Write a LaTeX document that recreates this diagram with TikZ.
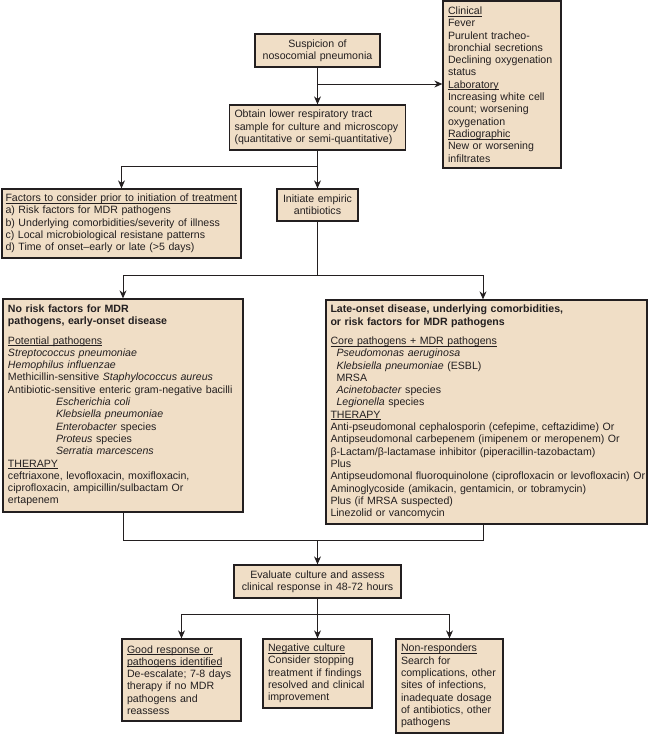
\documentclass[tikz,border=0pt]{standalone}
\usepackage{fontspec}
\setmainfont{Liberation Sans}
\usetikzlibrary{arrows.meta}
\definecolor{boxfill}{RGB}{240,222,198}
\definecolor{ink}{RGB}{35,31,32}
\newsavebox\ulnbox
\newcommand{\uln}[1]{\leavevmode\sbox\ulnbox{#1}\rlap{\rule[-1.7pt]{\wd\ulnbox}{0.55pt}}\usebox\ulnbox}
\begin{document}
\begin{tikzpicture}[x=1pt,y=-1pt,
  box/.style={draw=ink, line width=1.3pt, fill=boxfill, text=ink, inner ysep=3pt,
    font=\fontsize{10.6}{12.3}\selectfont, align=left},
  cbox/.style={box, align=center},
  conn/.style={draw=ink, line width=1pt},
  arr/.style={conn, -{Stealth[length=8pt,width=7pt]}}]
\useasboundingbox (0,0) rectangle (650,734);

% boxes
\node[cbox, minimum width=125pt, minimum height=33pt, text width=117pt, inner xsep=4pt] (susp) at (317.5,50.5)
  {Suspicion of\\nosocomial pneumonia};

\node[box, minimum width=176pt, minimum height=45pt, text width=166pt, inner xsep=5pt] (obtain) at (317.5,127.5)
  {Obtain lower respiratory tract\\sample for culture and microscopy\\(quantitative or semi-quantitative)};

\node[box, minimum width=118pt, minimum height=167pt, text width=108pt, inner xsep=5pt] (clin) at (502,84.5)
  {\uln{Clinical}\\Fever\\Purulent tracheo-\\bronchial secretions\\Declining oxygenation\\status\\
   \uln{Laboratory}\\Increasing white cell\\count; worsening\\oxygenation\\
   \uln{Radiographic}\\New or worsening\\infiltrates};

\node[box, minimum width=239pt, minimum height=69pt, text width=232pt, inner xsep=3.5pt] (factors) at (121.5,223.5)
  {\uln{Factors to consider prior to initiation of treatment}\\
   a) Risk factors for MDR pathogens\\
   b) Underlying comorbidities/severity of illness\\
   c) Local microbiological resistane patterns\\
   d) Time of onset–early or late (>5 days)};

\node[cbox, minimum width=81pt, minimum height=32pt, text width=75pt, inner xsep=3pt] (init) at (317.5,205)
  {Initiate empiric\\antibiotics};

\node[box, minimum width=240pt, minimum height=213pt, text width=230pt, inner xsep=5pt] (leftb) at (123,405.5)
  {\textbf{No risk factors for MDR}\\\textbf{pathogens, early-onset disease}\\[7pt]
   \uln{Potential pathogens}\\
   \textit{Streptococcus pneumoniae}\\
   \textit{Hemophilus influenzae}\\
   Methicillin-sensitive \textit{Staphylococcus aureus}\\
   \mbox{Antibiotic-sensitive enteric gram-negative bacilli}\\
   \hspace*{48pt}\textit{Escherichia coli}\\
   \hspace*{48pt}\textit{Klebsiella pneumoniae}\\
   \hspace*{48pt}\textit{Enterobacter} species\\
   \hspace*{48pt}\textit{Proteus} species\\
   \hspace*{48pt}\textit{Serratia marcescens}\\
   \uln{THERAPY}\\
   ceftriaxone, levofloxacin, moxifloxacin,\\
   ciprofloxacin, ampicillin/sulbactam Or\\
   ertapenem};

\node[box, minimum width=321pt, minimum height=224pt, text width=312pt, inner xsep=4.5pt] (rightb) at (486.5,412)
  {\textbf{Late-onset disease, underlying comorbidities,}\\\textbf{or risk factors for MDR pathogens}\\[7pt]
   \uln{Core pathogens + MDR pathogens}\\
   \hspace*{6pt}\textit{Pseudomonas aeruginosa}\\
   \hspace*{6pt}\textit{Klebsiella pneumoniae} (ESBL)\\
   \hspace*{6pt}MRSA\\
   \hspace*{6pt}\textit{Acinetobacter} species\\
   \hspace*{6pt}\textit{Legionella} species\\
   \uln{THERAPY}\\
   \mbox{Anti-pseudomonal cephalosporin (cefepime, ceftazidime) Or}\\
   \mbox{Antipseudomonal carbepenem (imipenem or meropenem) Or}\\
   \mbox{β-Lactam/β-lactamase inhibitor (piperacillin-tazobactam)}\\
   Plus\\
   \mbox{Antipseudomonal fluoroquinolone (ciprofloxacin or levofloxacin) Or}\\
   \mbox{Aminoglycoside (amikacin, gentamicin, or tobramycin)}\\
   Plus (if MRSA suspected)\\
   Linezolid or vancomycin};

\node[cbox, minimum width=167pt, minimum height=33pt, text width=159pt, inner xsep=4pt] (eval) at (317.5,581.5)
  {Evaluate culture and assess\\clinical response in 48-72 hours};

\node[box, minimum width=119pt, minimum height=82pt, text width=109pt, inner xsep=5pt] (good) at (181.5,680)
  {\uln{Good response or}\\\uln{pathogens identified}\\De-escalate; 7-8 days\\therapy if no MDR\\pathogens and\\reassess};

\node[box, minimum width=109pt, minimum height=69pt, text width=99pt, inner xsep=5pt] (neg) at (317.5,673.5)
  {\uln{Negative culture}\\Consider stopping\\treatment if findings\\resolved and clinical\\improvement};

\node[box, minimum width=107pt, minimum height=94pt, text width=97pt, inner xsep=5pt] (nonr) at (449.5,686)
  {\uln{Non-responders}\\Search for\\complications, other\\sites of infections,\\inadequate dosage\\of antibiotics, other\\pathogens};

% junctions
\coordinate (j1) at (317.5,84);
\coordinate (j2) at (317.5,166);
\coordinate (j3) at (317.5,275);
\coordinate (j4) at (317.5,540);
\coordinate (j5) at (317.5,614);

% connectors
\draw[arr] (susp.south) -- (obtain.north);
\draw[arr] (j1) -- (clin.west |- j1);
\draw[arr] (obtain.south) -- (init.north);
\draw[arr] (j2) -| (factors.north);
\draw[conn] (init.south) -- (j3);
\draw[arr] (j3) -| (leftb.north);
\draw[arr] (j3) -| ([xshift=-3.5pt]rightb.north);
\draw[conn] (leftb.south) |- (j4);
\draw[conn] ([xshift=-3.5pt]rightb.south) |- (j4);
\draw[arr] (j4) -- (eval.north);
\draw[arr] (eval.south) -- (neg.north);
\draw[arr] (j5) -| (good.north);
\draw[arr] (j5) -| (nonr.north);
\end{tikzpicture}
\end{document}
